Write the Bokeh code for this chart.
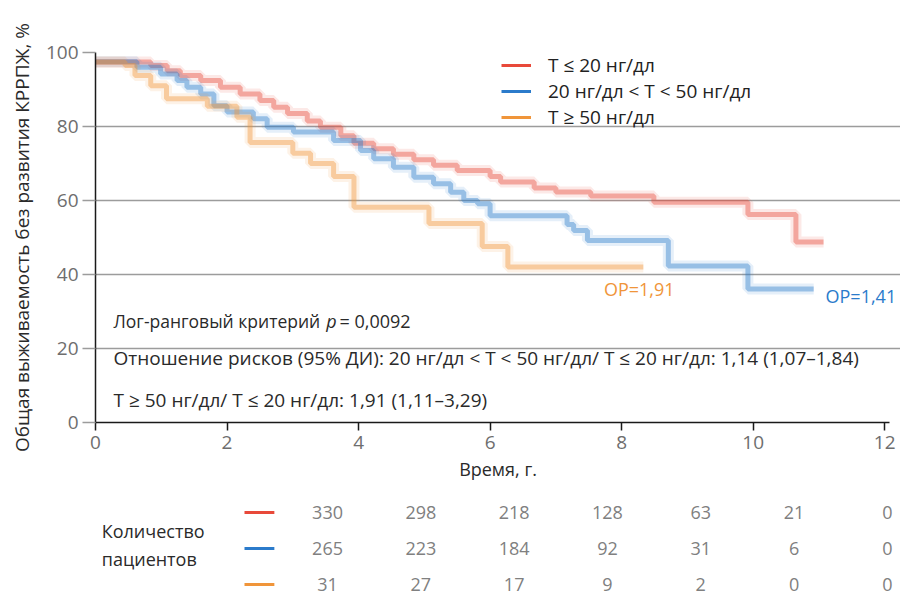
from bokeh.plotting import figure
from bokeh.models import Range1d, Label, Legend, LegendItem, FixedTicker, ColumnDataSource
from bokeh.layouts import column
from bokeh.embed import file_html
from bokeh.resources import INLINE
from bokeh.core.properties import value

FONT = "Open Sans"
NAN = float("nan")

# ---- data ----
groups = ["T ≤ 20 нг/дл", "20 нг/дл < T < 50 нг/дл", "T ≥ 50 нг/дл"]
colors = ["#e8493a", "#2b7bcb", "#f0953a"]

red_t = [0, 0.84, 1.09, 1.29, 1.6, 1.9, 2.2, 2.5, 2.71, 2.92, 3.22, 3.42, 3.73, 3.93,
         4.23, 4.53, 4.84, 5.14, 5.5, 6.0, 6.16, 6.67, 7.0, 7.53, 8.49, 9.92, 10.65, 11.07]
red_s = [97.4, 96.5, 95.1, 93.8, 92.4, 90.6, 88.8, 87.0, 85.2, 83.5, 81.5, 79.8, 77.5, 75.5,
         74.0, 72.5, 71.0, 69.5, 68.1, 66.5, 65.0, 63.4, 62.3, 61.2, 59.5, 56.2, 48.8, 48.8]

blue_t = [0, 0.63, 0.99, 1.24, 1.39, 1.6, 1.8, 2.0, 2.4, 2.61, 3.01, 3.62, 4.03, 4.23,
          4.53, 4.84, 5.14, 5.4, 5.6, 5.81, 6.0, 7.17, 7.27, 7.48, 8.71, 9.92, 10.92]
blue_s = [97.5, 96.0, 94.2, 92.4, 90.6, 88.8, 85.6, 83.9, 82.1, 79.8, 78.5, 76.2, 73.5, 71.3,
          69.0, 66.3, 64.5, 62.2, 60.0, 59.1, 55.9, 53.5, 51.9, 49.2, 42.3, 36.1, 36.1]

orange_t = [0, 0.45, 0.6, 0.84, 1.08, 1.7, 2.15, 2.35, 3.0, 3.27, 3.62, 3.93, 5.07, 5.88, 6.27, 8.33]
orange_s = [97.4, 96.5, 93.8, 91.0, 87.5, 85.5, 82.5, 75.7, 72.8, 70.0, 66.5, 58.2, 53.8, 47.6, 42.0, 42.0]

x_ticks = [0, 2, 4, 6, 8, 10, 12]
y_ticks = [0, 20, 40, 60, 80, 100]

hr_labels = ["ОР=1,91", "ОР=1,41"]
hr_pos_t = [7.73, 11.1]
hr_pos_s = [36.2, 34.3]

risk_red = [330, 298, 218, 128, 63, 21, 0]
risk_blue = [265, 223, 184, 92, 31, 6, 0]
risk_orange = [31, 27, 17, 9, 2, 0, 0]

# ---- main plot ----
p = figure(width=900, height=485, x_range=Range1d(0, 12.24), y_range=Range1d(0, 100),
           output_backend="svg", toolbar_location=None,
           min_border_left=95, min_border_right=0, min_border_top=52, min_border_bottom=63)
p.outline_line_color = None
p.background_fill_color = "white"
p.border_fill_color = "white"
p.xgrid.grid_line_color = None
p.ygrid.grid_line_color = "#9c9c9c"
p.ygrid.grid_line_width = 1.5
p.ygrid.ticker = FixedTicker(ticks=y_ticks)

p.yaxis.ticker = FixedTicker(ticks=y_ticks)
p.yaxis.minor_tick_line_color = None
p.yaxis.major_tick_out = 13
p.yaxis.major_tick_in = 0
p.yaxis.major_tick_line_color = "#9c9c9c"
p.yaxis.major_tick_line_width = 1.5
p.yaxis.axis_line_color = "#1a1a1a"
p.yaxis.axis_line_width = 1.5
p.yaxis.major_label_standoff = 4
p.yaxis.major_label_text_font = FONT
p.yaxis.major_label_text_font_size = "19px"
p.yaxis.major_label_text_color = "#6e6e6e"
p.yaxis.axis_label = "Общая выживаемость без развития КРРПЖ, %"
p.yaxis.axis_label_text_font = FONT
p.yaxis.axis_label_text_font_style = "normal"
p.yaxis.axis_label_text_font_size = "19px"
p.yaxis.axis_label_text_color = "#2a2a2a"
p.yaxis.axis_label_standoff = 8

p.xaxis.ticker = FixedTicker(ticks=x_ticks)
p.xaxis.bounds = (0, 12.07)
p.xaxis.minor_tick_line_color = None
p.xaxis.major_tick_out = 8
p.xaxis.major_tick_in = 0
p.xaxis.major_tick_line_color = "#1a1a1a"
p.xaxis.major_tick_line_width = 1.5
p.xaxis.axis_line_color = "#1a1a1a"
p.xaxis.axis_line_width = 1.5
p.xaxis.major_label_standoff = 5
p.xaxis.major_label_text_font = FONT
p.xaxis.major_label_text_font_size = "19px"
p.xaxis.major_label_text_color = "#6e6e6e"
p.xaxis.axis_label = "Время, г."
p.xaxis.axis_label_text_font = FONT
p.xaxis.axis_label_text_font_style = "normal"
p.xaxis.axis_label_text_font_size = "18px"
p.xaxis.axis_label_text_color = "#2a2a2a"
p.xaxis.axis_label_standoff = 5

series = [(red_t, red_s), (blue_t, blue_s), (orange_t, orange_s)]
items = []
for (tt, ss), c, g in zip(series, colors, groups):
    p.step(x=tt, y=ss, mode="after", line_color=c, line_width=11, line_alpha=0.12)
    p.step(x=tt, y=ss, mode="after", line_color=c, line_width=5, line_alpha=0.42)
    r = p.line(x=[NAN], y=[NAN], line_color=c, line_width=3)
    items.append(LegendItem(label=g, renderers=[r]))

legend = Legend(items=items, location=(406, 292), orientation="vertical",
                padding=2, margin=0, spacing=0, glyph_width=30, glyph_height=24,
                label_height=24, label_standoff=17,
                label_text_font=FONT, label_text_font_size="19px",
                label_text_color="#222222", border_line_color=None,
                background_fill_alpha=0)
p.add_layout(legend)

for txt, tx, sy, c in zip(hr_labels, hr_pos_t, hr_pos_s, [colors[2], colors[1]]):
    p.add_layout(Label(x=tx, y=sy, text=txt, text_font=FONT, text_font_size="18px",
                       text_color=c, text_baseline="middle", text_align="left"))

note_style = dict(text_font=FONT, text_color="#2a2a2a",
                  text_baseline="middle", text_align="left")
p.add_layout(Label(x=0.274, y=27.3, text="Лог-ранговый критерий", text_font_size="17.5px", **note_style))
p.add_layout(Label(x=3.51, y=27.3, text="p", text_font_style="italic", text_font_size="18px", **note_style))
p.add_layout(Label(x=3.71, y=27.3, text="= 0,0092", text_font_size="18px", **note_style))
p.add_layout(Label(x=0.274, y=17.3,
                   text="Отношение рисков (95% ДИ): 20 нг/дл < T < 50 нг/дл/ T ≤ 20 нг/дл: 1,14 (1,07–1,84)",
                   text_font_size="19px", **note_style))
p.add_layout(Label(x=0.274, y=6.2, text="T ≥ 50 нг/дл/ T ≤ 20 нг/дл: 1,91 (1,11–3,29)",
                   text_font_size="19px", **note_style))

# ---- risk table ----
t = figure(width=900, height=117, x_range=Range1d(-2.487, 6.141), y_range=Range1d(2.5, -0.75),
           output_backend="svg", toolbar_location=None,
           min_border_left=95, min_border_right=0, min_border_top=0, min_border_bottom=0,
           x_axis_location=None, y_axis_location=None)
t.outline_line_color = None
t.grid.visible = False

xs, ys, txt = [], [], []
for row, vals in enumerate([risk_red, risk_blue, risk_orange]):
    for col, v in enumerate(vals):
        xs.append(col)
        ys.append(row)
        txt.append(str(v))
src = ColumnDataSource(dict(x=xs, y=ys, text=txt))
t.text(x="x", y="y", text="text", source=src, text_align="center", text_baseline="middle",
       text_color="#808080", text_font=value(FONT), text_font_size="18px")

t.segment(x0=[-0.89] * 3, x1=[-0.57] * 3, y0=[0, 1, 2], y1=[0, 1, 2], line_color=colors, line_width=3)
t.text(x=[-2.42, -2.42], y=[0.5, 1.28], text=["Количество", "пациентов"], text_align="left",
       text_baseline="middle", text_color="#2a2a2a", text_font=value(FONT), text_font_size="18px")

layout = column(p, t, spacing=0)
open("out.html", "w").write(file_html(layout, INLINE))
